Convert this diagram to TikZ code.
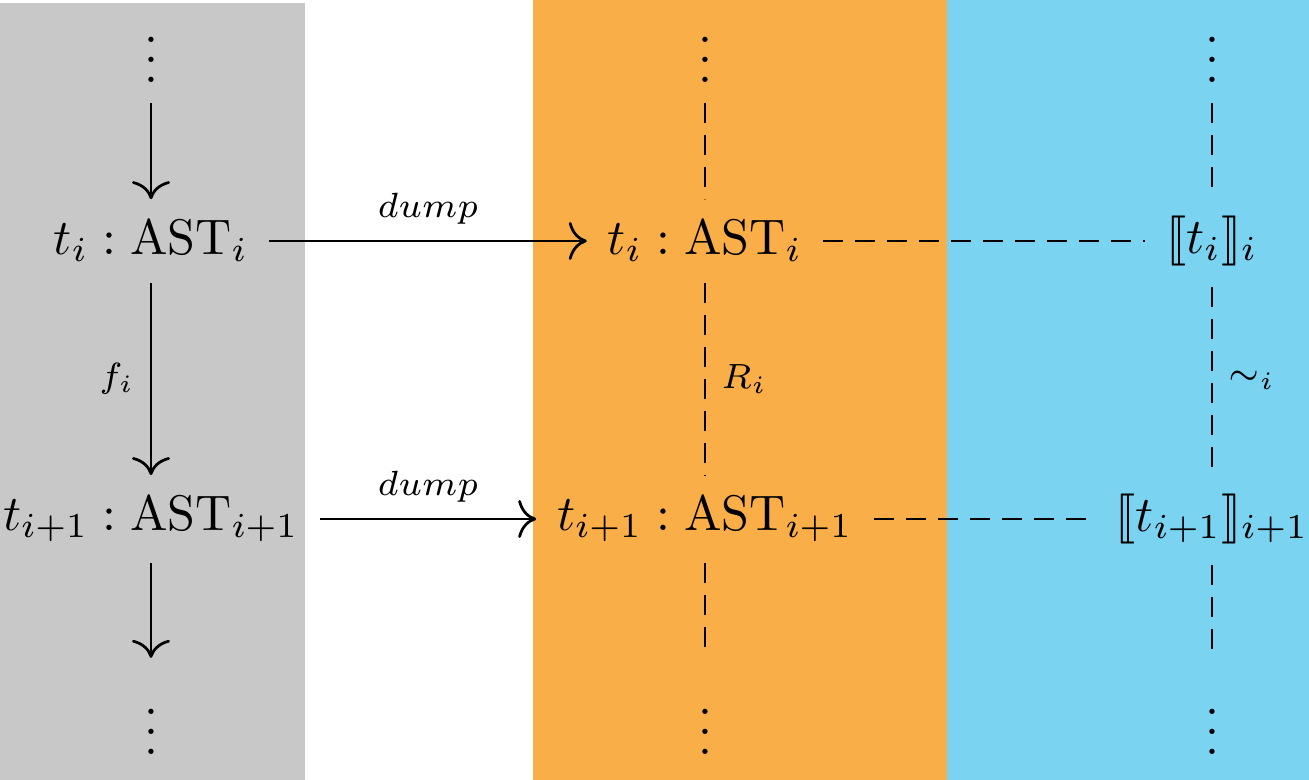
\documentclass[tikz,border=0pt]{standalone}
\usepackage{stmaryrd}
\usetikzlibrary{arrows.meta}
\definecolor{bggray}{RGB}{200,200,200}
\definecolor{bgorange}{RGB}{250,174,71}
\definecolor{bgblue}{RGB}{122,211,240}
\begin{document}
\begin{tikzpicture}[x=0.2pt,y=-0.2pt,
  obj/.style={inner sep=4pt, font=\normalsize},
  lab/.style={font=\scriptsize, inner sep=3pt},
  arr/.style={line width=0.55pt, -{Computer Modern Rightarrow[length=3.6pt,width=7.6pt]}},
  dsh/.style={line width=0.55pt, dash pattern=on 4pt off 2.4pt}]
\useasboundingbox (0,0) rectangle (1309,780);
\fill[bggray] (0,3) rectangle (305,780);
\fill[bgorange] (533,0) rectangle (947,780);
\fill[bgblue] (947,0) rectangle (1309,780);
% left column
\node[obj] (d1) at (151,44.5) {$\vdots$};
\node[obj] (a1) at (151,241) {$t_i : \mathrm{AST}_i$};
\node[obj] (a2) at (151,519) {$t_{i+1} : \mathrm{AST}_{i+1}$};
\node[obj] (d2) at (151,716.5) {$\vdots$};
% middle column
\node[obj] (e1) at (705,44.5) {$\vdots$};
\node[obj] (b1) at (705,241) {$t_i : \mathrm{AST}_i$};
\node[obj] (b2) at (705,519) {$t_{i+1} : \mathrm{AST}_{i+1}$};
\node[obj] (e2) at (705,716.5) {$\vdots$};
% right column
\node[obj] (g1) at (1212,44.5) {$\vdots$};
\node[obj] (c1) at (1212,241) {$\llbracket t_i \rrbracket_i$};
\node[obj] (c2) at (1212,519) {$\llbracket t_{i+1} \rrbracket_{i+1}$};
\node[obj] (g2) at (1212,716.5) {$\vdots$};
% arrows
\draw[arr] (d1) -- (a1);
\draw[arr] (a1) -- node[lab,left] {$f_i$} (a2);
\draw[arr] (a2) -- (d2);
\draw[arr] (a1) -- node[lab,above] {$dump$} (b1);
\draw[arr] (a2) -- node[lab,above] {$dump$} (b2);
% dashed
\draw[dsh] (e1) -- (b1);
\draw[dsh] (b1) -- node[lab,right] {$R_i$} (b2);
\draw[dsh] (b2) -- (e2);
\draw[dsh] (b1) -- (c1);
\draw[dsh] (b2) -- (c2);
\draw[dsh] (g1) -- (c1);
\draw[dsh] (c1) -- node[lab,right] {$\sim_i$} (c2);
\draw[dsh] (c2) -- (g2);
\end{tikzpicture}
\end{document}
